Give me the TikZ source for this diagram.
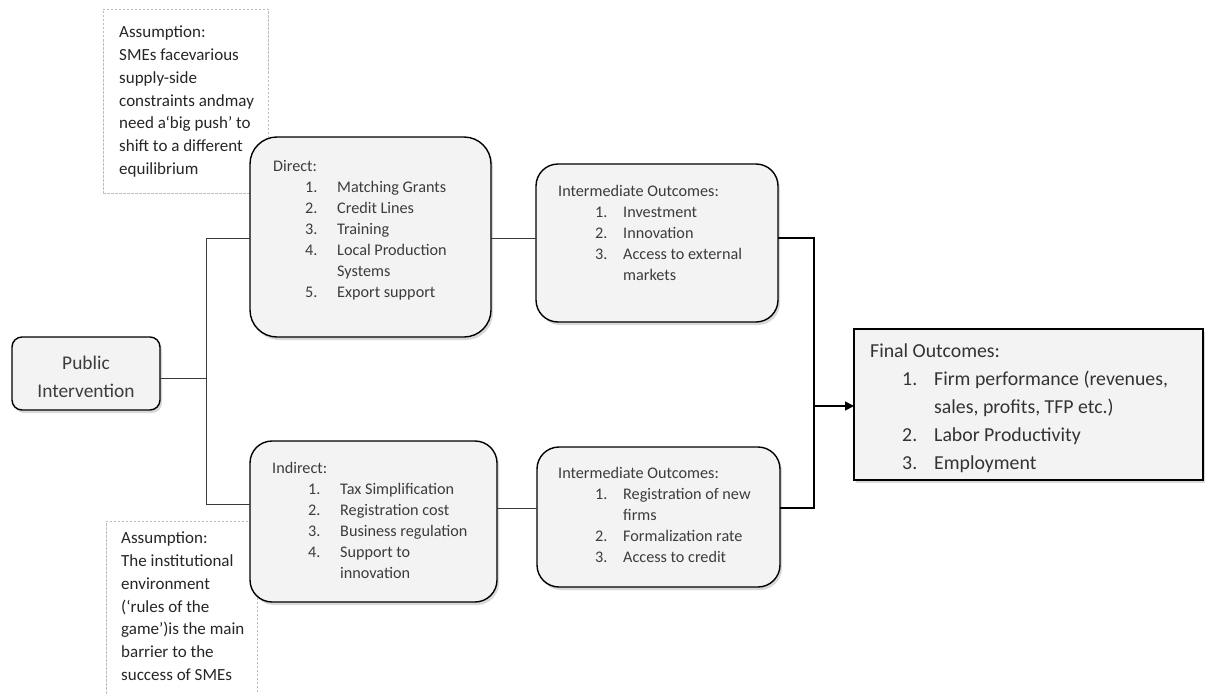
\documentclass[tikz,border=0pt]{standalone}
\usepackage{fontspec}
\setmainfont{Carlito}
\usetikzlibrary{shadows,arrows.meta}
\definecolor{txt}{HTML}{3C3C3C}
\definecolor{boxfill}{HTML}{F3F3F3}
\definecolor{dashc}{HTML}{BDBDBD}
\definecolor{lconn}{HTML}{3A3A3A}
\newcommand{\itmA}[2]{\hspace*{32pt}\makebox[32pt][l]{#1}#2}
\newcommand{\itmB}[2]{\hspace*{37pt}\makebox[28pt][l]{#1}#2}
\tikzset{
  rbox/.style={draw=black, line width=1.4pt, fill=boxfill, rounded corners=#1,
    drop shadow={shadow xshift=2pt, shadow yshift=-3pt, opacity=0.3},
    inner sep=0pt, outer sep=0pt, anchor=north west},
  sbox/.style={draw=black, line width=1.4pt, fill=boxfill,
    drop shadow={shadow xshift=2pt, shadow yshift=-3pt, opacity=0.3},
    inner sep=0pt, outer sep=0pt, anchor=north west},
  abox/.style={draw=dashc, line width=0.8pt, dash pattern=on 2.5pt off 1.5pt, fill=white,
    inner sep=0pt, outer sep=0pt, anchor=north west},
  listtxt/.style={anchor=north west, inner sep=0pt, align=left, text=txt,
    font=\fontsize{16.2}{21}\selectfont},
  asstxt/.style={anchor=north west, inner sep=0pt, align=left, text=black!85,
    font=\fontsize{17}{22.7}\selectfont},
  lconnector/.style={draw=lconn, line width=1pt},
  rconnector/.style={draw=black, line width=1.6pt},
}
\begin{document}
\begin{tikzpicture}[x=1pt,y=-1pt]
\useasboundingbox (0,0) rectangle (1206,693);
% assumption boxes (behind)
\node[abox, minimum width=165pt, minimum height=184pt] (asstop) at (103,9) {};
\node[asstxt] (asstoptxt) at (119,26) {Assumption:\\SMEs facevarious\\supply-side\\constraints andmay\\need a‘big push’ to\\shift to a different\\equilibrium};
\node[abox, minimum width=151pt, minimum height=200pt] (assbot) at (106,521) {};
\node[asstxt] (assbottxt) at (121,532) {Assumption:\\The institutional\\environment\\(‘rules of the\\game’)is the main\\barrier to the\\success of SMEs};
% main boxes
\node[rbox=10pt, minimum width=148pt, minimum height=73pt] (pi) at (12,337) {};
\node[align=center, text=txt, inner sep=0pt, font=\fontsize{19.4}{28}\selectfont] (pitxt) at (86,377) {Public\\Intervention};
\node[rbox=27pt, minimum width=241pt, minimum height=200pt] (direct) at (250,137) {};
\node[listtxt] (directtxt) at (273,160.5) {Direct:\\\itmA{1.}{Matching Grants}\\\itmA{2.}{Credit Lines}\\\itmA{3.}{Training}\\\itmA{4.}{Local Production}\\\hspace*{64pt}Systems\\\itmA{5.}{Export support}};
\node[rbox=22pt, minimum width=247pt, minimum height=161pt] (indirect) at (250,441) {};
\node[listtxt] (indirecttxt) at (272,462.5) {Indirect:\\\hspace*{4pt}\itmA{1.}{Tax Simplification}\\\hspace*{4pt}\itmA{2.}{Registration cost}\\\hspace*{4pt}\itmA{3.}{Business regulation}\\\hspace*{4pt}\itmA{4.}{Support to}\\\hspace*{68pt}innovation};
\node[rbox=22pt, minimum width=242pt, minimum height=158pt] (inttop) at (536,164) {};
\node[listtxt] (inttoptxt) at (558,185.5) {Intermediate Outcomes:\\\itmB{1.}{Investment}\\\itmB{2.}{Innovation}\\\itmB{3.}{Access to external}\\\hspace*{65pt}markets};
\node[rbox=22pt, minimum width=243pt, minimum height=140pt] (intbot) at (537,447) {};
\node[listtxt] (intbottxt) at (558,467.5) {Intermediate Outcomes:\\\itmB{1.}{Registration of new}\\\hspace*{65pt}firms\\\itmB{2.}{Formalization rate}\\\itmB{3.}{Access to credit}};
\node[sbox, minimum width=349pt, minimum height=151pt] (final) at (854,329) {};
\node[listtxt, font=\fontsize{19.8}{28}\selectfont, text=black!80] (finaltxt) at (870,344) {Final Outcomes:\\\hspace*{32pt}\makebox[32pt][l]{1.}Firm performance (revenues,\\\hspace*{64pt}sales, profits, TFP etc.)\\\hspace*{32pt}\makebox[32pt][l]{2.}Labor Productivity\\\hspace*{32pt}\makebox[32pt][l]{3.}Employment};
% junction coordinates
\coordinate (jpi) at (206,378);
\coordinate (jt) at (206,238);
\coordinate (jb) at (206,504);
\coordinate (rt) at (814,238);
\coordinate (rb) at (814,508);
\coordinate (ra) at (814,406);
% connectors
\draw[lconnector] (pi.east |- jpi) -- (jpi);
\draw[lconnector] (jt) -- (jb);
\draw[lconnector] (jt) -- (direct.west |- jt);
\draw[lconnector] (jb) -- (indirect.west |- jb);
\draw[lconnector] (direct.east |- jt) -- (inttop.west |- jt);
\draw[lconnector] (indirect.east |- rb) -- (intbot.west |- rb);
\draw[rconnector] (inttop.east |- rt) -- (rt) -- (rb) -- (intbot.east |- rb);
\draw[rconnector, -{Triangle[length=9pt,width=9pt]}] (ra) -- (final.west |- ra);
\end{tikzpicture}
\end{document}
